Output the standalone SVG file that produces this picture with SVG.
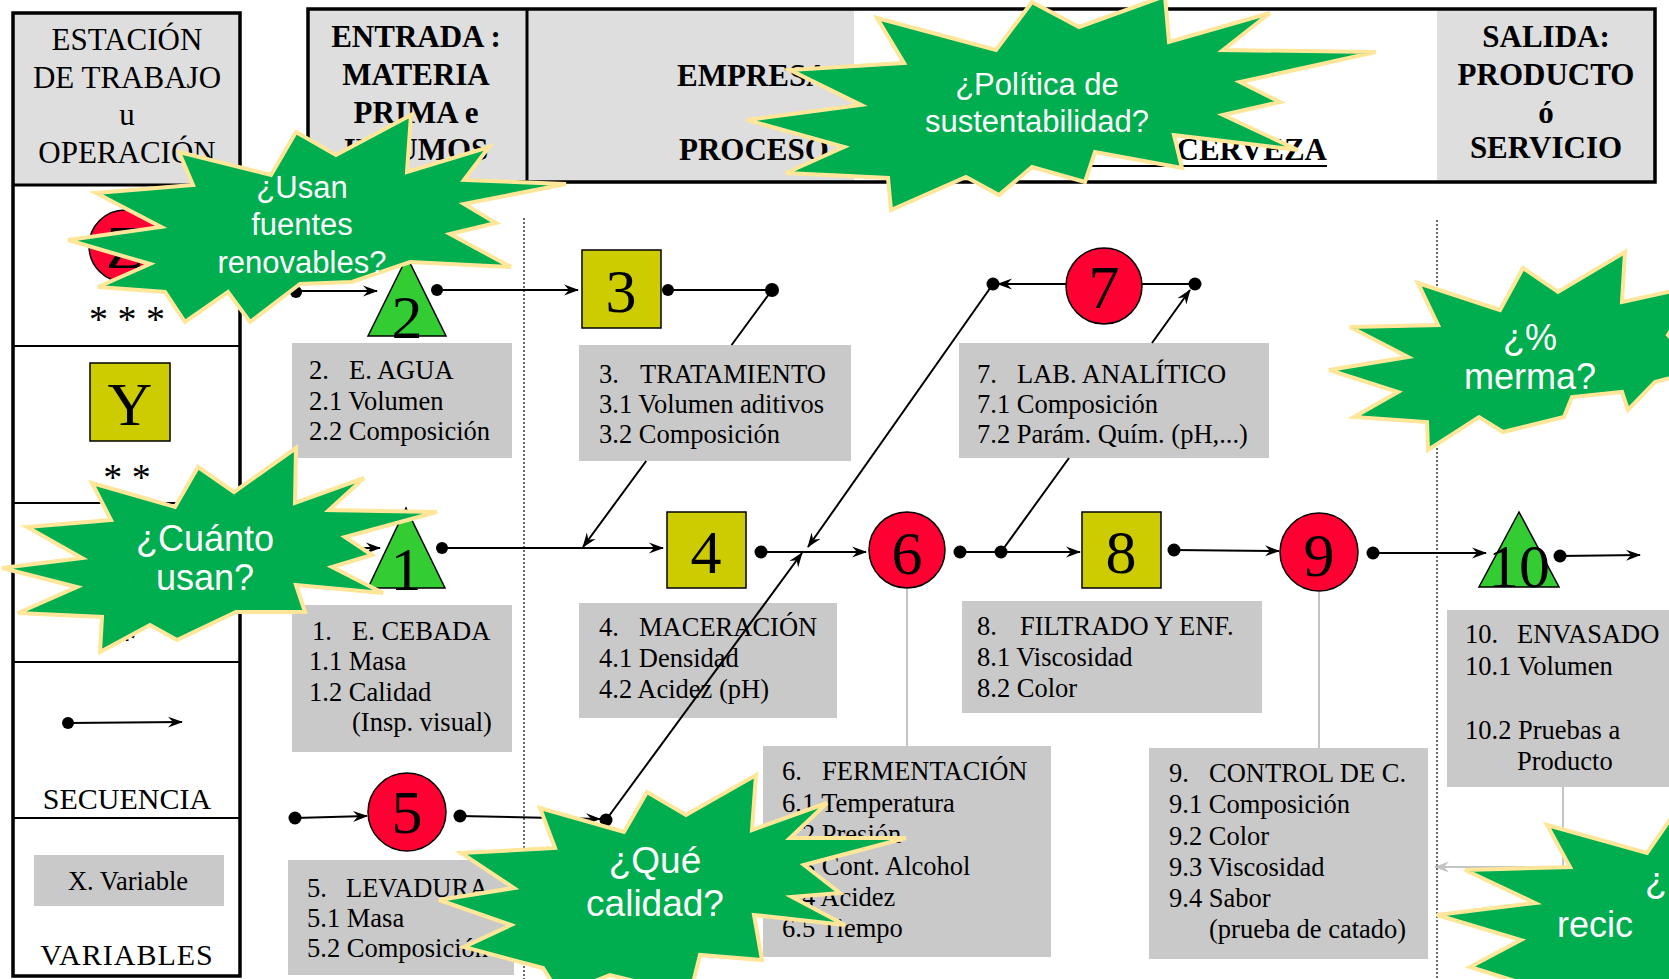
<svg xmlns="http://www.w3.org/2000/svg" width="1669" height="979" viewBox="0 0 1669 979">
<defs>
<marker id="ah" markerWidth="16" markerHeight="12" refX="14" refY="6" orient="auto" markerUnits="userSpaceOnUse"><path d="M0,0.5 L15,6 L0,11.5 L5,6 z" fill="#000"/></marker>
<marker id="ahg" markerWidth="16" markerHeight="12" refX="14" refY="6" orient="auto" markerUnits="userSpaceOnUse"><path d="M0,0.5 L15,6 L0,11.5 L5,6 z" fill="#c4c4c4"/></marker>
<style>
.sf{font-family:"Liberation Serif","Times New Roman",serif;fill:#000}
.hd{font-size:31px;text-anchor:middle}
.hb{font-weight:bold}
.lb{font-size:26.5px}
.lg{font-size:30px;text-anchor:middle}
.num{font-size:62px;text-anchor:middle}
.ast{font-size:38px;text-anchor:middle}
.box{fill:#c9c9c9}
.hg{fill:#dedede}
.sq{fill:#cccc00;stroke:#000;stroke-width:1.5}
.ci{fill:#ff0033;stroke:#000;stroke-width:1.5}
.tr{fill:#33cc33;stroke:#000;stroke-width:1.5}
.ln{stroke:#000;stroke-width:2;fill:none}
.gl{stroke:#c4c4c4;stroke-width:2;fill:none}
.dt{stroke:#444;stroke-width:1.6;stroke-dasharray:2 2;fill:none}
.dot{fill:#000}
.star{fill:#00ad4f;stroke:#ffe699;stroke-width:4;stroke-linejoin:miter}
.stt{font-family:"Liberation Sans",Arial,sans-serif;fill:#fff;text-anchor:middle}
</style>
</defs>
<rect width="1669" height="979" fill="#fff"/>

<g id="legend">
<rect class="hg" x="13" y="13" width="227" height="172"/>
<rect x="13" y="13" width="227" height="963" fill="none" stroke="#000" stroke-width="3.5"/>
<line x1="13" y1="185" x2="240" y2="185" stroke="#000" stroke-width="3"/>
<line x1="13" y1="346" x2="240" y2="346" stroke="#000" stroke-width="2"/>
<line x1="13" y1="503" x2="240" y2="503" stroke="#000" stroke-width="2"/>
<line x1="13" y1="662" x2="240" y2="662" stroke="#000" stroke-width="2"/>
<line x1="13" y1="818" x2="240" y2="818" stroke="#000" stroke-width="2"/>
<text class="sf hd" x="127" y="50">ESTACIÓN</text>
<text class="sf hd" x="127" y="88">DE TRABAJO</text>
<text class="sf hd" x="127" y="125">u</text>
<text class="sf hd" x="127" y="163">OPERACIÓN</text>
<circle class="ci" cx="125" cy="246" r="36"/>
<text class="sf num" x="125" y="268" font-size="56">Z</text>
<text class="sf ast" x="127" y="332">* * *</text>
<rect class="sq" x="90" y="363" width="80" height="78"/>
<text class="sf num" x="130" y="425">Y</text>
<text class="sf ast" x="127" y="490">* *</text>
<polygon class="tr" points="127,522 88,600 166,600"/>
<text class="sf num" x="127" y="598" font-size="50">X</text>
<text class="sf ast" x="127" y="652">*</text>
<line class="ln" x1="68" y1="723" x2="182" y2="722" marker-end="url(#ah)"/>
<circle class="dot" cx="68" cy="723" r="6"/>
<text class="sf lg" x="127" y="809">SECUENCIA</text>
<rect class="box" x="34" y="855" width="190" height="51"/>
<text class="sf lb" x="128" y="890" text-anchor="middle">X. Variable</text>
<text class="sf lg" x="127" y="965" letter-spacing="1">VARIABLES</text>
</g>

<g id="header">
<rect class="hg" x="308" y="9" width="546" height="173"/>
<rect class="hg" x="1437" y="9" width="218" height="173"/>
<rect x="308" y="9" width="1347" height="173" fill="none" stroke="#000" stroke-width="3.5"/>
<line x1="527" y1="9" x2="527" y2="182" stroke="#000" stroke-width="3"/>
<text class="sf hd hb" x="416" y="47">ENTRADA :</text>
<text class="sf hd hb" x="416" y="85">MATERIA</text>
<text class="sf hd hb" x="416" y="123">PRIMA e</text>
<text class="sf hd hb" x="416" y="160">INSUMOS</text>
<text class="sf hb" font-size="31" x="677" y="86">EMPRESA</text>
<text class="sf hb" font-size="31" x="679" y="160">PROCESO</text>
<text class="sf hb" font-size="31" x="1327" y="160" text-anchor="end">CERVEZA</text>
<line x1="1088" y1="166" x2="1327" y2="166" stroke="#000" stroke-width="2"/>
<text class="sf hd hb" x="1546" y="47">SALIDA:</text>
<text class="sf hd hb" x="1546" y="85">PRODUCTO</text>
<text class="sf hd hb" x="1546" y="123">ó</text>
<text class="sf hd hb" x="1546" y="158">SERVICIO</text>
</g>

<g id="dividers">
<line class="dt" x1="524" y1="218" x2="524" y2="979"/>
<line class="dt" x1="1437" y1="220" x2="1437" y2="979"/>
</g>

<g id="n2">
<polygon class="tr" points="407,257 368,336 446,336"/>
<text class="sf num" x="407" y="338" font-size="60">2</text>
<rect class="box" x="292" y="343" width="220" height="115"/>
<text class="sf lb" y="379"><tspan x="309">2.</tspan><tspan x="349">E. AGUA</tspan></text>
<text class="sf lb" x="309" y="410">2.1 Volumen</text>
<text class="sf lb" x="309" y="440">2.2 Composición</text>
</g>
<g id="n1">
<polygon class="tr" points="406,508 368,588 445,588"/>
<text class="sf num" x="406" y="590" font-size="60">1</text>
<rect class="box" x="292" y="605" width="220" height="147"/>
<text class="sf lb" y="640"><tspan x="312">1.</tspan><tspan x="352">E. CEBADA</tspan></text>
<text class="sf lb" x="309" y="670">1.1 Masa</text>
<text class="sf lb" x="309" y="701">1.2 Calidad</text>
<text class="sf lb" x="352" y="731">(Insp. visual)</text>
</g>
<g id="n3">
<rect class="sq" x="582" y="250" width="79" height="78"/>
<text class="sf num" x="621" y="312">3</text>
<rect class="box" x="579" y="345" width="272" height="116"/>
<text class="sf lb" y="383"><tspan x="599">3.</tspan><tspan x="640">TRATAMIENTO</tspan></text>
<text class="sf lb" x="599" y="413">3.1 Volumen aditivos</text>
<text class="sf lb" x="599" y="443">3.2 Composición</text>
</g>
<g id="n4">
<rect class="sq" x="667" y="512" width="79" height="76"/>
<text class="sf num" x="706" y="573">4</text>
<rect class="box" x="579" y="603" width="258" height="115"/>
<text class="sf lb" y="636"><tspan x="599">4.</tspan><tspan x="639">MACERACIÓN</tspan></text>
<text class="sf lb" x="599" y="667">4.1 Densidad</text>
<text class="sf lb" x="599" y="698">4.2 Acidez (pH)</text>
</g>
<g id="n5">
<circle class="ci" cx="407" cy="812" r="39"/>
<text class="sf num" x="407" y="833">5</text>
<rect class="box" x="288" y="860" width="226" height="115"/>
<text class="sf lb" y="897"><tspan x="307">5.</tspan><tspan x="346">LEVADURA</tspan></text>
<text class="sf lb" x="307" y="927">5.1 Masa</text>
<text class="sf lb" x="307" y="957">5.2 Composición</text>
</g>
<g id="n6">
<circle class="ci" cx="907" cy="550" r="38"/>
<text class="sf num" x="907" y="574">6</text>
<rect class="box" x="763" y="746" width="288" height="211"/>
<text class="sf lb" y="780"><tspan x="782">6.</tspan><tspan x="822">FERMENTACIÓN</tspan></text>
<text class="sf lb" x="782" y="812">6.1 Temperatura</text>
<text class="sf lb" x="782" y="843">6.2 Presión</text>
<text class="sf lb" x="782" y="875">6.3 Cont. Alcohol</text>
<text class="sf lb" x="782" y="906">6.4 Acidez</text>
<text class="sf lb" x="782" y="937">6.5 Tiempo</text>
</g>
<g id="n7">
<circle class="ci" cx="1104" cy="286" r="38"/>
<text class="sf num" x="1104" y="308">7</text>
<rect class="box" x="959" y="343" width="310" height="115"/>
<text class="sf lb" y="383"><tspan x="977">7.</tspan><tspan x="1017">LAB. ANALÍTICO</tspan></text>
<text class="sf lb" x="977" y="413">7.1 Composición</text>
<text class="sf lb" x="977" y="443">7.2 Parám. Quím. (pH,...)</text>
</g>
<g id="n8">
<rect class="sq" x="1082" y="512" width="79" height="76"/>
<text class="sf num" x="1121" y="573">8</text>
<rect class="box" x="962" y="601" width="300" height="112"/>
<text class="sf lb" y="635"><tspan x="977">8.</tspan><tspan x="1020">FILTRADO Y ENF.</tspan></text>
<text class="sf lb" x="977" y="666">8.1 Viscosidad</text>
<text class="sf lb" x="977" y="697">8.2 Color</text>
</g>
<g id="n9">
<circle class="ci" cx="1319" cy="552" r="39"/>
<text class="sf num" x="1319" y="576">9</text>
<rect class="box" x="1149" y="748" width="279" height="211"/>
<text class="sf lb" y="782"><tspan x="1169">9.</tspan><tspan x="1209">CONTROL DE C.</tspan></text>
<text class="sf lb" x="1169" y="813">9.1 Composición</text>
<text class="sf lb" x="1169" y="845">9.2 Color</text>
<text class="sf lb" x="1169" y="876">9.3 Viscosidad</text>
<text class="sf lb" x="1169" y="907">9.4 Sabor</text>
<text class="sf lb" x="1209" y="938">(prueba de catado)</text>
</g>
<g id="n10">
<polygon class="tr" points="1519,512 1479,587 1559,587"/>
<text class="sf num" x="1519" y="587" font-size="54">10</text>
<rect class="box" x="1447" y="610" width="230" height="177"/>
<text class="sf lb" y="643"><tspan x="1465">10.</tspan><tspan x="1517">ENVASADO</tspan></text>
<text class="sf lb" x="1465" y="675">10.1 Volumen</text>
<text class="sf lb" x="1465" y="739">10.2 Pruebas a</text>
<text class="sf lb" x="1517" y="770">Producto</text>
</g>

<g id="connectors">
<line class="ln" x1="296" y1="291" x2="377" y2="291" marker-end="url(#ah)"/>
<line class="ln" x1="437" y1="290" x2="578" y2="290" marker-end="url(#ah)"/>
<line class="ln" x1="668" y1="290" x2="772" y2="290"/>
<path class="ln" d="M772,290 L731.6,345 M646.2,461 L583,547" marker-end="url(#ah)"/>
<line class="ln" x1="1066" y1="284" x2="998" y2="284" marker-end="url(#ah)"/>
<line class="ln" x1="1142" y1="284" x2="1195" y2="284"/>
<line class="ln" x1="993" y1="284" x2="808" y2="547" marker-end="url(#ah)"/>
<path class="ln" d="M1001,552 L1069,458 M1152,343 L1190,290" marker-end="url(#ah)"/>
<line class="ln" x1="296" y1="548" x2="380" y2="548" marker-end="url(#ah)"/>
<line class="ln" x1="442" y1="548" x2="663" y2="548" marker-end="url(#ah)"/>
<line class="ln" x1="761" y1="552" x2="866" y2="552" marker-end="url(#ah)"/>
<line class="ln" x1="606" y1="820" x2="802" y2="553" marker-end="url(#ah)"/>
<line class="ln" x1="960" y1="552" x2="1080" y2="552" marker-end="url(#ah)"/>
<line class="ln" x1="1174" y1="550" x2="1279" y2="551" marker-end="url(#ah)"/>
<line class="ln" x1="1373" y1="553" x2="1486" y2="553" marker-end="url(#ah)"/>
<line class="ln" x1="1560" y1="556" x2="1640" y2="555" marker-end="url(#ah)"/>
<line class="ln" x1="295" y1="818" x2="367" y2="816" marker-end="url(#ah)"/>
<line class="ln" x1="460" y1="816" x2="600" y2="819" marker-end="url(#ah)"/>
<line class="gl" x1="907" y1="589" x2="907" y2="746"/>
<line class="gl" x1="1319" y1="592" x2="1319" y2="748"/>
<path class="gl" d="M1563,787 L1563,867 L1435,867" marker-end="url(#ahg)"/>
<circle class="dot" cx="296" cy="292" r="6"/>
<circle class="dot" cx="437" cy="290" r="6"/>
<circle class="dot" cx="668" cy="290" r="6"/>
<circle class="dot" cx="772" cy="290" r="7"/>
<circle class="dot" cx="993" cy="284" r="6.5"/>
<circle class="dot" cx="1195" cy="284" r="6.5"/>
<circle class="dot" cx="296" cy="548" r="6"/>
<circle class="dot" cx="442" cy="548" r="6"/>
<circle class="dot" cx="761" cy="552" r="6.5"/>
<circle class="dot" cx="960" cy="552" r="6.5"/>
<circle class="dot" cx="1001" cy="552" r="6.5"/>
<circle class="dot" cx="1174" cy="550" r="6.5"/>
<circle class="dot" cx="1373" cy="553" r="6.5"/>
<circle class="dot" cx="1560" cy="556" r="6.5"/>
<circle class="dot" cx="295" cy="818" r="6.5"/>
<circle class="dot" cx="460" cy="816" r="6.5"/>
<circle class="dot" cx="606" cy="820" r="6.5"/>
</g>

<g id="s1">
<polygon class="star" points="179,152 271,175 296,132 336,155 411,115 407,172 489,147 464,180 566,184 464,204 496,223 450,234 511,267 410,262 352,282 300,284 250,322 228,292 185,322 165,292 98,287 150,264 68,240 161,227 96,193 193,185"/>
<text class="stt" font-size="31" x="302" y="198">¿Usan</text>
<text class="stt" font-size="31" x="302" y="235">fuentes</text>
<text class="stt" font-size="31" x="302" y="273">renovables?</text>
</g>
<g id="s2">
<polygon class="star" points="747,120 861,105 790,70 904,63 877,18 996,50 1032,2 1079,27 1165,-4 1169,42 1270,13 1223,50 1376,52 1240,82 1280,102 1223,115 1298,150 1174,135 1182,168 1095,152 1085,182 1032,167 999,195 966,177 891,210 888,178 786,173 844,147"/>
<text class="stt" font-size="31" x="1037" y="95">¿Política de</text>
<text class="stt" font-size="31" x="1037" y="132">sustentabilidad?</text>
</g>
<g id="s3">
<polygon class="star" points="92,483 175,507 198,467 234,492 296,448 295,503 364,478 329,510 437,512 345,537 372,555 332,567 383,593 296,585 305,612 236,612 177,640 150,625 100,652 102,617 18,613 77,587 2,568 82,558 27,527 111,520"/>
<text class="stt" font-size="36" x="205" y="551">¿Cuánto</text>
<text class="stt" font-size="36" x="205" y="590">usan?</text>
</g>
<g id="s4">
<polygon class="star" points="1418,283 1500,310 1523,268 1558,292 1625,252 1622,302 1700,285 1668,335 1700,370 1655,382 1628,410 1622,392 1572,397 1564,417 1503,432 1479,417 1428,450 1427,422 1354,417 1398,392 1329,370 1408,357 1350,327 1438,325"/>
<text class="stt" font-size="36" x="1530" y="350">¿%</text>
<text class="stt" font-size="36" x="1530" y="389">merma?</text>
</g>
<g id="s5">
<polygon class="star" points="540,808 624,832 647,792 686,815 756,775 752,830 827,803 790,838 906,838 804,865 840,893 792,897 845,925 754,915 762,960 700,955 690,995 610,975 560,995 543,968 464,947 511,925 439,900 514,888 461,853 555,848"/>
<text class="stt" font-size="37" x="655" y="873">¿Qué</text>
<text class="stt" font-size="37" x="655" y="916">calidad?</text>
</g>
<g id="s6">
<polygon class="star" points="1547,825 1647,853 1680,805 1700,995 1560,995 1470,967 1521,940 1437,915 1535,903 1465,870 1570,867"/>
<text class="stt" font-size="36" x="1656" y="893" text-anchor="start">¿</text>
<text class="stt" font-size="36" x="1595" y="937" text-anchor="start">recic</text>
</g>
</svg>
